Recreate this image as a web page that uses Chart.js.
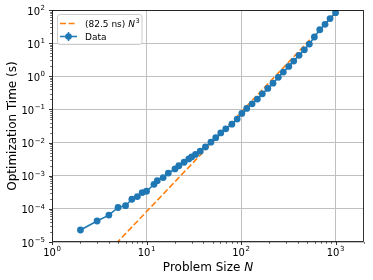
<!DOCTYPE html>
<html>
<head>
<meta charset="utf-8">
<script src="https://cdn.jsdelivr.net/npm/chart.js@4/dist/chart.umd.min.js"></script>
<style>
  html, body { margin: 0; padding: 0; background: #fff; }
</style>
</head>
<body>
<canvas id="chart" width="373" height="280"></canvas>
<script>
const problemSize = [2, 3, 4, 5, 6, 7, 8, 9, 10, 12, 13, 15, 17, 20, 22, 25, 28, 30, 33, 37,
                     42, 48, 54, 61, 69, 80, 91, 102, 115, 131, 149, 168, 192, 218, 248, 280,
                     320, 361, 411, 468, 528, 597, 681, 774, 875, 1000];
const optTime = [2.3e-5, 4.3e-5, 6.5e-5, 1.1e-4, 1.25e-4, 1.95e-4, 2.35e-4, 3.1e-4, 3.4e-4, 5.5e-4,
                 7.1e-4, 8.8e-4, 1.2e-3, 1.6e-3, 2.0e-3, 2.55e-3, 3.2e-3, 3.7e-3, 4.4e-3, 5.5e-3,
                 7.4e-3, 1.03e-2, 1.41e-2, 1.96e-2, 2.6e-2, 3.6e-2, 5.1e-2, 7.6e-2, 0.107, 0.148,
                 0.205, 0.296, 0.43, 0.62, 0.93, 1.34, 1.99, 2.88, 4.28, 6.3,
                 9.4, 15.3, 25.4, 37, 55, 83];

// (82.5 ns) N^3 reference line, end points
const fitSize = [2, 1000];
const fitTime = [6.6e-7, 82.5];

// Major tick values
const xDecades = [1, 10, 100, 1000];
const yDecades = [1e-5, 1e-4, 1e-3, 1e-2, 1e-1, 1, 10, 100];

const BLUE = '#1f77b4';
const ORANGE = '#ff7f0e';
const FONT = '"DejaVu Sans", sans-serif';
const DASH = [6, 2.6];

// Draw "10^e" the way matplotlib mathtext does
function drawPower(ctx, exp, x, baseline, align) {
    const base = '10';
    const sup = exp < 0 ? '\u2212' + Math.abs(exp) : String(exp);
    ctx.font = '10px ' + FONT;
    const wb = ctx.measureText(base).width;
    ctx.font = '7px ' + FONT;
    const ws = ctx.measureText(sup).width;
    const total = wb + ws + 0.5;
    let left = align === 'right' ? x - total : x - total / 2;
    ctx.textAlign = 'left';
    ctx.textBaseline = 'alphabetic';
    ctx.font = '10px ' + FONT;
    ctx.fillText(base, left, baseline);
    ctx.font = '7px ' + FONT;
    ctx.fillText(sup, left + wb + 0.5, baseline - 4.5);
}

function minorValues(decades, max) {
    const out = [];
    decades.forEach(d => {
        for (let k = 2; k <= 9; k++) {
            if (d * k <= max) out.push(d * k);
        }
    });
    return out;
}

const axesPlugin = {
    id: 'mplAxes',
    afterDraw(chart) {
        const { ctx, chartArea: a, scales } = chart;
        const x = scales.x, y = scales.y;
        ctx.save();
        ctx.fillStyle = '#000';
        ctx.strokeStyle = '#000';

        // tick marks
        ctx.lineWidth = 0.8;
        ctx.beginPath();
        xDecades.forEach(v => {
            const px = Math.round(x.getPixelForValue(v)) + 0.5;
            ctx.moveTo(px, a.bottom); ctx.lineTo(px, a.bottom + 3);
        });
        yDecades.forEach(v => {
            const py = Math.round(y.getPixelForValue(v)) + 0.5;
            ctx.moveTo(a.left, py); ctx.lineTo(a.left - 3, py);
        });
        ctx.stroke();
        ctx.lineWidth = 0.6;
        ctx.beginPath();
        minorValues([1, 10, 100, 1000], 2000).forEach(v => {
            const px = Math.round(x.getPixelForValue(v)) + 0.5;
            ctx.moveTo(px, a.bottom); ctx.lineTo(px, a.bottom + 1.8);
        });
        minorValues(yDecades.slice(0, -1), 100).forEach(v => {
            const py = Math.round(y.getPixelForValue(v)) + 0.5;
            ctx.moveTo(a.left, py); ctx.lineTo(a.left - 1.8, py);
        });
        ctx.stroke();

        // tick labels
        xDecades.forEach((v, i) => {
            drawPower(ctx, i, x.getPixelForValue(v), a.bottom + 13.5, 'center');
        });
        yDecades.forEach(v => {
            drawPower(ctx, Math.round(Math.log10(v)), a.left - 7, y.getPixelForValue(v) + 4.5, 'right');
        });

        // axis titles
        const t1 = 'Problem Size ';
        ctx.font = '12px ' + FONT;
        const w1 = ctx.measureText(t1).width;
        ctx.font = 'italic 12px ' + FONT;
        const w2 = ctx.measureText('N').width;
        const cx = (a.left + a.right) / 2;
        let lx = cx - (w1 + w2) / 2;
        ctx.textAlign = 'left';
        ctx.font = '12px ' + FONT;
        ctx.fillText(t1, lx, 271);
        ctx.font = 'italic 12px ' + FONT;
        ctx.fillText('N', lx + w1, 271);

        ctx.save();
        ctx.translate(16, (a.top + a.bottom) / 2);
        ctx.rotate(-Math.PI / 2);
        ctx.textAlign = 'center';
        ctx.font = '12px ' + FONT;
        ctx.fillText('Optimization Time (s)', 0, 0);
        ctx.restore();

        // spines
        ctx.lineWidth = 0.8;
        ctx.strokeStyle = '#000';
        ctx.strokeRect(a.left + 0.5, a.top + 0.5, a.right - a.left - 1, a.bottom - a.top - 1);

        // legend
        const lx0 = a.left + 5, ly0 = a.top + 4, lw = 84.5, lh = 30;
        ctx.beginPath();
        ctx.roundRect(lx0 + 0.5, ly0 + 0.5, lw, lh, 2.5);
        ctx.fillStyle = 'rgba(255,255,255,0.8)';
        ctx.fill();
        ctx.strokeStyle = '#cccccc';
        ctx.lineWidth = 1;
        ctx.stroke();

        const r1 = ly0 + 9.5, r2 = ly0 + 22.5;
        ctx.strokeStyle = ORANGE;
        ctx.lineWidth = 1.6;
        ctx.setLineDash(DASH);
        ctx.beginPath();
        ctx.moveTo(lx0 + 3, r1); ctx.lineTo(lx0 + 20, r1);
        ctx.stroke();
        ctx.setLineDash([]);

        ctx.strokeStyle = BLUE;
        ctx.lineWidth = 1.5;
        ctx.beginPath();
        ctx.moveTo(lx0 + 3, r2); ctx.lineTo(lx0 + 20, r2);
        ctx.moveTo(lx0 + 11.5, r2 - 4.5); ctx.lineTo(lx0 + 11.5, r2 + 4.5);
        ctx.stroke();
        ctx.fillStyle = BLUE;
        ctx.beginPath();
        ctx.arc(lx0 + 11.5, r2, 3.3, 0, Math.PI * 2);
        ctx.fill();

        ctx.fillStyle = '#000';
        ctx.textAlign = 'left';
        const tx = lx0 + 28;
        ctx.font = '9px ' + FONT;
        const lbl = '(82.5 ns) ';
        ctx.fillText(lbl, tx, r1 + 3.3);
        const wl = ctx.measureText(lbl).width;
        ctx.font = 'italic 9px ' + FONT;
        ctx.fillText('N', tx + wl, r1 + 3.3);
        const wn = ctx.measureText('N').width;
        ctx.font = '6.5px ' + FONT;
        ctx.fillText('3', tx + wl + wn + 0.6, r1 - 0.8);
        ctx.font = '9px ' + FONT;
        ctx.fillText('Data', tx, r2 + 3.3);

        ctx.restore();
    }
};

const ctx = document.getElementById('chart').getContext('2d');
new Chart(ctx, {
    type: 'line',
    data: {
        datasets: [
            {
                label: 'Data',
                data: problemSize.map((n, i) => ({ x: n, y: optTime[i] })),
                borderColor: BLUE,
                backgroundColor: BLUE,
                borderWidth: 1.5,
                pointRadius: 3.4,
                pointBorderWidth: 0,
                pointHoverRadius: 3.4,
                order: 0
            },
            {
                label: '(82.5 ns) N^3',
                data: fitSize.map((n, i) => ({ x: n, y: fitTime[i] })),
                borderColor: ORANGE,
                borderWidth: 1.6,
                borderDash: DASH,
                pointRadius: 0,
                order: 1
            }
        ]
    },
    options: {
        responsive: false,
        animation: false,
        devicePixelRatio: 1,
        layout: { padding: { top: 10, right: 9, left: 0, bottom: 0 } },
        plugins: { legend: { display: false }, tooltip: { enabled: false } },
        scales: {
            x: {
                type: 'logarithmic',
                min: 1,
                max: 2000,
                afterBuildTicks: s => { s.ticks = xDecades.map(v => ({ value: v })); },
                afterFit: s => { s.height = 38; },
                ticks: { display: false },
                grid: { color: '#c0c0c0', lineWidth: 1, drawTicks: false },
                border: { display: false }
            },
            y: {
                type: 'logarithmic',
                min: 1e-5,
                max: 100,
                afterBuildTicks: s => { s.ticks = yDecades.map(v => ({ value: v })); },
                afterFit: s => { s.width = 52; },
                ticks: { display: false },
                grid: { color: '#c0c0c0', lineWidth: 1, drawTicks: false },
                border: { display: false }
            }
        }
    },
    plugins: [axesPlugin]
});
</script>
</body>
</html>
